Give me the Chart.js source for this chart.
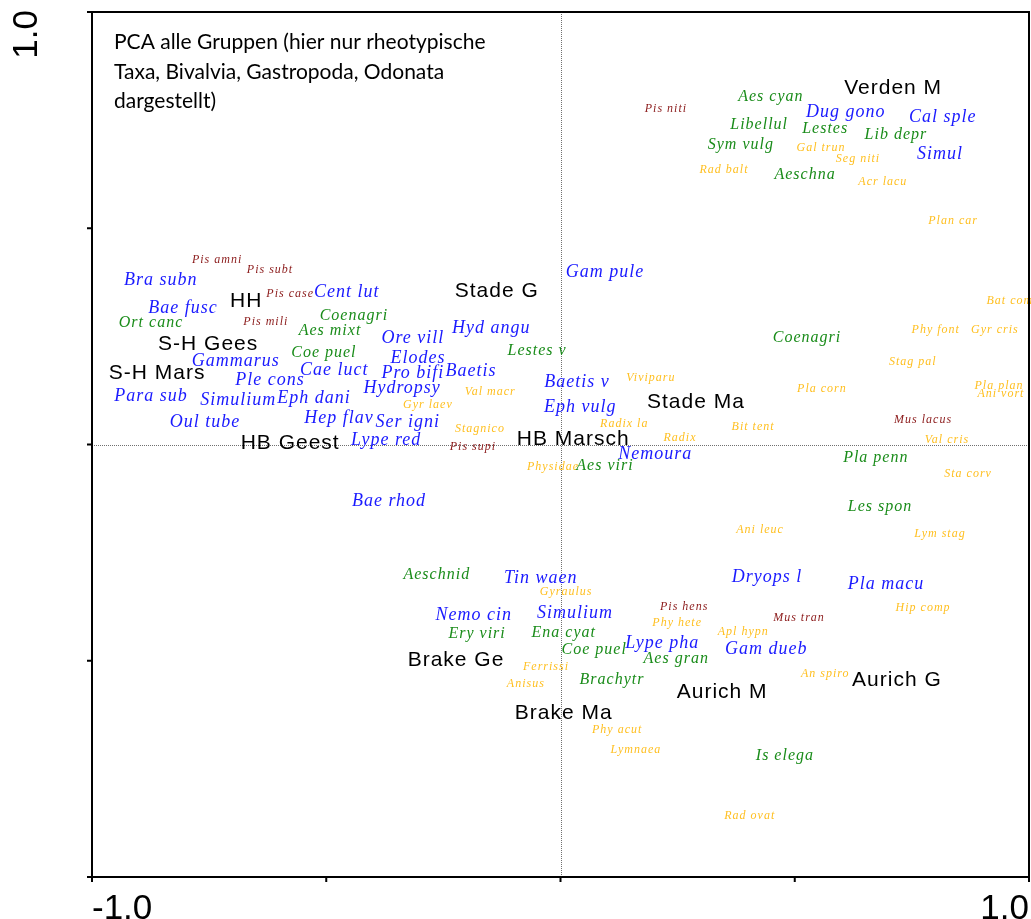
<!DOCTYPE html>
<html>
<head>
<meta charset="utf-8">
<title>PCA alle Gruppen</title>
<script src="https://cdn.jsdelivr.net/npm/chart.js@4/dist/chart.umd.min.js"></script>
<style>
  html, body { margin: 0; padding: 0; background: #fff; }
  canvas { display: block; }
</style>
</head>
<body>
<canvas id="pca" width="1031" height="919"></canvas>
<script>
// PCA biplot - only labels, no point markers (like the CANOCO output)

// axis ticks
const axisTicks = [-1, -0.5, 0, 0.5, 1];
const titleLines = [
  'PCA alle Gruppen (hier nur rheotypische',
  'Taxa, Bivalvia, Gastropoda, Odonata',
  'dargestellt)'
];

// sites (black)
const sites = ['Verden M', 'Stade G', 'HH', 'S-H Gees', 'S-H Mars', 'HB Geest', 'HB Marsch',
  'Stade Ma', 'Brake Ge', 'Brake Ma', 'Aurich M', 'Aurich G'];
const siteX = [0.710, -0.136, -0.671, -0.752, -0.861, -0.577, 0.027, 0.289, -0.223, 0.007, 0.345, 0.718];
const siteY = [0.824, 0.355, 0.332, 0.232, 0.165, 0.003, 0.013, 0.098, -0.498, -0.621, -0.572, -0.545];

// rheotypische Taxa (blue)
const rheoTaxa = ['Dug gono', 'Cal sple', 'Simul', 'Gam pule', 'Bra subn', 'Bae fusc', 'Cent lut',
  'Hyd angu', 'Ore vill', 'Elodes', 'Gammarus', 'Cae luct', 'Pro bifi', 'Baetis', 'Hydropsy',
  'Ple cons', 'Para sub', 'Simulium', 'Eph dani', 'Hep flav', 'Ser igni', 'Oul tube', 'Lype red',
  'Baetis v', 'Eph vulg', 'Nemoura', 'Bae rhod', 'Tin waen', 'Dryops l', 'Pla macu', 'Nemo cin',
  'Simulium', 'Lype pha', 'Gam dueb'];
const rheoX = [0.609, 0.816, 0.810, 0.095, -0.853, -0.806, -0.456,
  -0.148, -0.315, -0.304, -0.693, -0.483, -0.315, -0.191, -0.338,
  -0.620, -0.874, -0.688, -0.526, -0.473, -0.326, -0.759, -0.372,
  0.035, 0.042, 0.202, -0.366, -0.042, 0.441, 0.695, -0.185,
  0.031, 0.217, 0.439];
const rheoY = [0.769, 0.757, 0.672, 0.399, 0.380, 0.316, 0.353,
  0.269, 0.246, 0.200, 0.193, 0.172, 0.165, 0.170, 0.131,
  0.149, 0.112, 0.103, 0.108, 0.061, 0.052, 0.052, 0.010,
  0.145, 0.087, -0.022, -0.131, -0.309, -0.306, -0.323, -0.394,
  -0.390, -0.459, -0.473];

// Odonata (green)
const odonata = ['Aes cyan', 'Libellul', 'Lestes', 'Lib depr', 'Sym vulg', 'Aeschna', 'Coenagri',
  'Ort canc', 'Aes mixt', 'Coe puel', 'Lestes v', 'Coenagri', 'Aes viri', 'Pla penn', 'Les spon',
  'Aeschnid', 'Ery viri', 'Ena cyat', 'Coe puel', 'Aes gran', 'Brachytr', 'Is elega'];
const odoX = [0.449, 0.424, 0.565, 0.716, 0.385, 0.522, -0.441,
  -0.874, -0.492, -0.505, -0.050, 0.526, 0.095, 0.673, 0.682,
  -0.264, -0.178, 0.007, 0.072, 0.247, 0.110, 0.479];
const odoY = [0.803, 0.739, 0.729, 0.716, 0.692, 0.623, 0.297,
  0.281, 0.262, 0.212, 0.216, 0.246, -0.050, -0.031, -0.145,
  -0.302, -0.438, -0.436, -0.475, -0.496, -0.545, -0.720];

// Bivalvia (dark red)
const bivalvia = ['Pis niti', 'Pis amni', 'Pis subt', 'Pis case', 'Pis mili', 'Pis supi',
  'Mus lacus', 'Pis hens', 'Mus tran'];
const bivX = [0.225, -0.733, -0.620, -0.577, -0.629, -0.187, 0.774, 0.264, 0.509];
const bivY = [0.776, 0.427, 0.403, 0.348, 0.283, -0.006, 0.057, -0.376, -0.401];

// Gastropoda (orange)
const gastropoda = ['Gal trun', 'Seg niti', 'Rad balt', 'Acr lacu', 'Plan car', 'Bat com',
  'Phy font', 'Gyr cris', 'Stag pal', 'Pla plan', 'Ani vort', 'Pla corn', 'Bit tent', 'Val cris',
  'Sta corv', 'Ani leuc', 'Lym stag', 'Hip comp', 'Apl hypn', 'Phy hete', 'Gyraulus', 'Physidae',
  'Viviparu', 'Val macr', 'Gyr laev', 'Stagnico', 'Radix la', 'Radix', 'Ferrissi', 'Anisus',
  'Phy acut', 'Lymnaea', 'An spiro', 'Rad ovat'];
const gasX = [0.556, 0.635, 0.349, 0.688, 0.838, 0.959,
  0.801, 0.927, 0.752, 0.936, 0.940, 0.558, 0.411, 0.825,
  0.870, 0.426, 0.810, 0.774, 0.390, 0.249, 0.012, -0.016,
  0.193, -0.150, -0.283, -0.172, 0.136, 0.255, -0.031, -0.074,
  0.121, 0.161, 0.565, 0.404];
const gasY = [0.686, 0.660, 0.635, 0.607, 0.517, 0.332,
  0.265, 0.265, 0.191, 0.135, 0.117, 0.128, 0.040, 0.010,
  -0.068, -0.198, -0.207, -0.378, -0.434, -0.413, -0.341, -0.052,
  0.154, 0.121, 0.091, 0.036, 0.047, 0.015, -0.514, -0.554,
  -0.660, -0.706, -0.531, -0.859];

function pts(xs, ys) {
  return xs.map((x, i) => ({ x: x, y: ys[i] }));
}

const SERIF = '"Liberation Serif", "Times New Roman", serif';
const SANS = '"Liberation Sans", Arial, sans-serif';

const datasets = [
  { label: 'Gastropoda', names: gastropoda, data: pts(gasX, gasY), color: '#ffbf1f', font: 'italic 12px ' + SERIF },
  { label: 'Bivalvia', names: bivalvia, data: pts(bivX, bivY), color: '#8b1a1a', font: 'italic 12px ' + SERIF },
  { label: 'Odonata', names: odonata, data: pts(odoX, odoY), color: '#1a8c1a', font: 'italic 16px ' + SERIF },
  { label: 'rheotypische Taxa', names: rheoTaxa, data: pts(rheoX, rheoY), color: '#1a1aff', font: 'italic 18px ' + SERIF },
  { label: 'Standorte', names: sites, data: pts(siteX, siteY), color: '#000000', font: '21px ' + SANS }
].map(d => Object.assign(d, { pointRadius: 0, pointHoverRadius: 0, showLine: false }));

const biplotPlugin = {
  id: 'biplot',
  beforeDatasetsDraw(chart) {
    const ctx = chart.ctx;
    const a = chart.chartArea;
    const xs = chart.scales.x, ys = chart.scales.y;
    ctx.save();
    // dotted zero lines
    ctx.strokeStyle = '#707070';
    ctx.lineWidth = 1;
    ctx.setLineDash([1, 1]);
    const x0 = Math.round(xs.getPixelForValue(0)) + 0.5;
    const y0 = Math.round(ys.getPixelForValue(0)) + 0.5;
    ctx.beginPath();
    ctx.moveTo(x0, a.top); ctx.lineTo(x0, a.bottom);
    ctx.moveTo(a.left, y0); ctx.lineTo(a.right, y0);
    ctx.stroke();
    ctx.restore();
  },
  afterDatasetsDraw(chart) {
    const ctx = chart.ctx;
    const a = chart.chartArea;
    const xs = chart.scales.x, ys = chart.scales.y;
    ctx.save();

    // labels at the data positions
    ctx.textAlign = 'center';
    ctx.textBaseline = 'middle';
    chart.data.datasets.forEach((ds, i) => {
      const meta = chart.getDatasetMeta(i);
      ctx.fillStyle = ds.color;
      ctx.font = ds.font;
      ctx.letterSpacing = '1px';
      meta.data.forEach((el, j) => {
        ctx.fillText(ds.names[j], el.x, el.y);
      });
    });

    // frame
    ctx.letterSpacing = '0px';
    ctx.strokeStyle = '#000';
    ctx.lineWidth = 2;
    ctx.strokeRect(a.left, a.top, a.right - a.left, a.bottom - a.top);

    // ticks
    ctx.beginPath();
    axisTicks.forEach(v => {
      const px = xs.getPixelForValue(v);
      ctx.moveTo(px, a.bottom); ctx.lineTo(px, a.bottom + 5);
      const py = ys.getPixelForValue(v);
      ctx.moveTo(a.left - 5, py); ctx.lineTo(a.left, py);
    });
    ctx.stroke();

    // axis numbers
    ctx.fillStyle = '#000';
    ctx.font = '35px ' + SANS;
    ctx.textBaseline = 'alphabetic';
    ctx.textAlign = 'left';
    ctx.fillText('-1.0', xs.getPixelForValue(-1), 919);
    ctx.textAlign = 'right';
    ctx.fillText('1.0', xs.getPixelForValue(1), 919);
    ctx.save();
    ctx.translate(37, ys.getPixelForValue(1) - 2);
    ctx.rotate(-Math.PI / 2);
    ctx.textAlign = 'right';
    ctx.fillText('1.0', 0, 0);
    ctx.restore();

    // title inside the plot
    ctx.font = '21px Lato, "Open Sans", sans-serif';
    ctx.textAlign = 'left';
    titleLines.forEach((t, i) => {
      ctx.fillText(t, a.left + 22, a.top + 37 + i * 29.5);
    });
    ctx.restore();
  }
};

new Chart(document.getElementById('pca'), {
  type: 'scatter',
  data: { datasets: datasets },
  options: {
    responsive: false,
    animation: false,
    events: [],
    layout: { padding: { left: 92, top: 12, right: 2, bottom: 42 } },
    plugins: { legend: { display: false }, tooltip: { enabled: false } },
    scales: {
      x: { type: 'linear', min: -1, max: 1, display: false },
      y: { type: 'linear', min: -1, max: 1, display: false }
    }
  },
  plugins: [biplotPlugin]
});
</script>
</body>
</html>
